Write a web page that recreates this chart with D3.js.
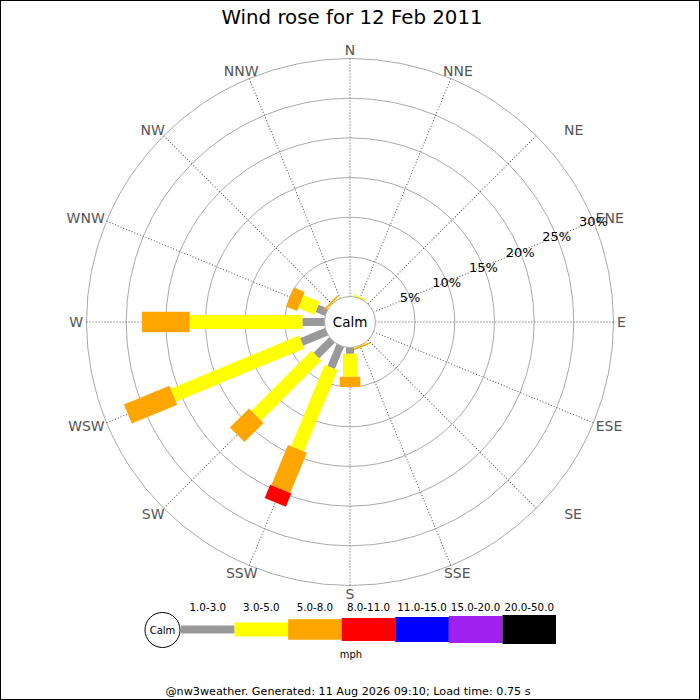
<!DOCTYPE html>
<html>
<head>
<meta charset="utf-8">
<script src="https://cdn.jsdelivr.net/npm/d3@7"></script>
<style>
  body { margin: 0; background: #fff; }
  svg { display: block; font-family: "DejaVu Sans", sans-serif; }
</style>
</head>
<body>
<svg id="chart" width="700" height="700"></svg>
<script>
// compass points, clockwise from north
var directions = ["N", "NNE", "NE", "ENE", "E", "ESE", "SE", "SSE",
                  "S", "SSW", "SW", "WSW", "W", "WNW", "NW", "NNW"];
var speedBins = ["1.0-3.0", "3.0-5.0", "5.0-8.0", "8.0-11.0", "11.0-15.0", "15.0-20.0", "20.0-50.0"];
var radialTicks = [5, 10, 15, 20, 25, 30];

// percentage of time per direction, one array per speed bin
var bin1to3   = [0, 0,   0, 0, 0, 0, 0, 0,   0.8, 3.0,  2.8,  3.4,  2.8,  1.3, 0,   0];
var bin3to5   = [0, 0.1, 0, 0, 0, 0, 0, 0.1, 2.9, 11.1, 10.7, 17.5, 14.2, 2.2, 0.1, 0];
var bin5to8   = [0, 0,   0, 0, 0, 0, 0, 0.1, 1.3, 5.5,  3.4,  6.2,  6.0,  1.5, 0.1, 0];
var bin8to11  = [0, 0,   0, 0, 0, 0, 0, 0,   0,   1.8,  0,    0,    0,    0,   0,   0];
var bin11to15 = [0, 0, 0, 0, 0, 0, 0, 0, 0, 0, 0, 0, 0, 0, 0, 0];
var bin15to20 = [0, 0, 0, 0, 0, 0, 0, 0, 0, 0, 0, 0, 0, 0, 0, 0];
var bin20to50 = [0, 0, 0, 0, 0, 0, 0, 0, 0, 0, 0, 0, 0, 0, 0, 0];
var series = [bin1to3, bin3to5, bin5to8, bin8to11, bin11to15, bin15to20, bin20to50];

// styles
var binColors = ["#999999", "#ffff00", "#ffa500", "#ff0000", "#0000ff", "#a020f0", "#000000"];
var binWidths = [8, 14, 20.5, 23, 25, 27, 29];

var svg = d3.select("#chart");
var cx = 350, cy = 322, calmR = 25.4, outerR = 263.5;

svg.append("rect").attr("x", 0.5).attr("y", 0.5).attr("width", 699).attr("height", 699)
	.attr("fill", "#fff").attr("stroke", "#000");

svg.append("text").attr("x", 352).attr("y", 24).attr("text-anchor", "middle")
	.attr("font-size", 19.8).attr("fill", "#000").text("Wind rose for 12 Feb 2011");

var r = d3.scaleLinear().domain([0, 30]).range([calmR, outerR]);
var ang = d3.scaleBand().domain(directions).range([0, 360]).align(0).paddingInner(0).paddingOuter(0);
function angleOf(d) { return ang(d); }

var g = svg.append("g").attr("transform", "translate(" + cx + "," + cy + ")");

// rings
g.selectAll("circle.ring").data(radialTicks).enter().append("circle")
	.attr("class", "ring").attr("r", function(d) { return r(d); })
	.attr("fill", "none").attr("stroke", "#aaa").attr("stroke-width", 1);

// spokes
g.selectAll("line.spoke").data(directions).enter().append("line")
	.attr("class", "spoke")
	.attr("transform", function(d) { return "rotate(" + (angleOf(d) - 90) + ")"; })
	.attr("x1", calmR).attr("x2", outerR).attr("y1", 0).attr("y2", 0)
	.attr("stroke", "#555").attr("stroke-width", 1).attr("stroke-dasharray", "1,2");

// compass labels
var labelNudge = {NE: 28, SE: 28};
g.selectAll("text.dir").data(directions).enter().append("text")
	.attr("class", "dir")
	.attr("text-anchor", "middle").attr("font-size", 14).attr("fill", "#555")
	.each(function(d) {
		var t = d3.select(this).text(d);
		var a = (angleOf(d) - 90) * Math.PI / 180;
		var ux = Math.cos(a), uy = Math.sin(a);
		var w = this.getComputedTextLength();
		var x = 267 * ux + ux * w / 2 + (labelNudge[d] || 0);
		var y = 267 * uy + uy * 5;
		t.attr("x", x).attr("y", y + 5);
	});

// bars: stacked segments along each direction
var stacked = [];
directions.forEach(function(dir, i) {
	var acc = 0;
	series.forEach(function(s, b) {
		var v = s[i];
		if (v > 0) stacked.push({dir: dir, bin: b, v0: acc, v1: acc + v});
		acc += v;
	});
});

g.selectAll("rect.seg").data(stacked).enter().append("rect")
	.attr("class", "seg")
	.attr("transform", function(d) { return "rotate(" + (angleOf(d.dir) - 90) + ")"; })
	.attr("x", function(d) { return r(d.v0); })
	.attr("width", function(d) { return Math.max(1.5, r(d.v1) - r(d.v0)); })
	.attr("y", function(d) { return -binWidths[d.bin] / 2; })
	.attr("height", function(d) { return binWidths[d.bin]; })
	.attr("fill", function(d) { return binColors[d.bin]; });

// calm circle
g.append("circle").attr("r", calmR).attr("fill", "#fff").attr("stroke", "#aaa");
g.append("text").attr("y", 5).attr("text-anchor", "middle").attr("font-size", 13.5)
	.attr("fill", "#000").text("Calm");

// radial labels along ENE
var labAng = (angleOf("ENE") - 90) * Math.PI / 180;
g.selectAll("text.rlab").data(radialTicks).enter().append("text")
	.attr("class", "rlab")
	.attr("x", function(d) { return r(d) * Math.cos(labAng); })
	.attr("y", function(d) { return r(d) * Math.sin(labAng) + 5; })
	.attr("text-anchor", "middle").attr("font-size", 13).attr("fill", "#000")
	.text(function(d) { return d + "%"; });

// legend
var lx = d3.scaleBand().domain(speedBins).range([181, 556]);
var ly = 629.5;
var leg = svg.append("g");
leg.append("circle").attr("cx", 162.5).attr("cy", 630).attr("r", 17.5)
	.attr("fill", "#fff").attr("stroke", "#000");
leg.append("text").attr("x", 162.5).attr("y", 634).attr("text-anchor", "middle")
	.attr("font-size", 10).text("Calm");
leg.selectAll("rect").data(speedBins).enter().append("rect")
	.attr("x", function(d) { return lx(d); })
	.attr("width", lx.bandwidth())
	.attr("y", function(d, i) { return ly - binWidths[i] / 2; })
	.attr("height", function(d, i) { return binWidths[i]; })
	.attr("fill", function(d, i) { return binColors[i]; });
leg.selectAll("text.bl").data(speedBins).enter().append("text")
	.attr("class", "bl")
	.attr("x", function(d) { return lx(d) + lx.bandwidth() / 2; })
	.attr("y", 611).attr("text-anchor", "middle").attr("font-size", 10.3)
	.text(function(d) { return d; });
leg.append("text").attr("x", 351).attr("y", 658).attr("text-anchor", "middle")
	.attr("font-size", 10).text("mph");

svg.append("text").attr("x", 348).attr("y", 695).attr("text-anchor", "middle")
	.attr("font-size", 11.2).text("@nw3weather. Generated: 11 Aug 2026 09:10; Load time: 0.75 s");
</script>
</body>
</html>
